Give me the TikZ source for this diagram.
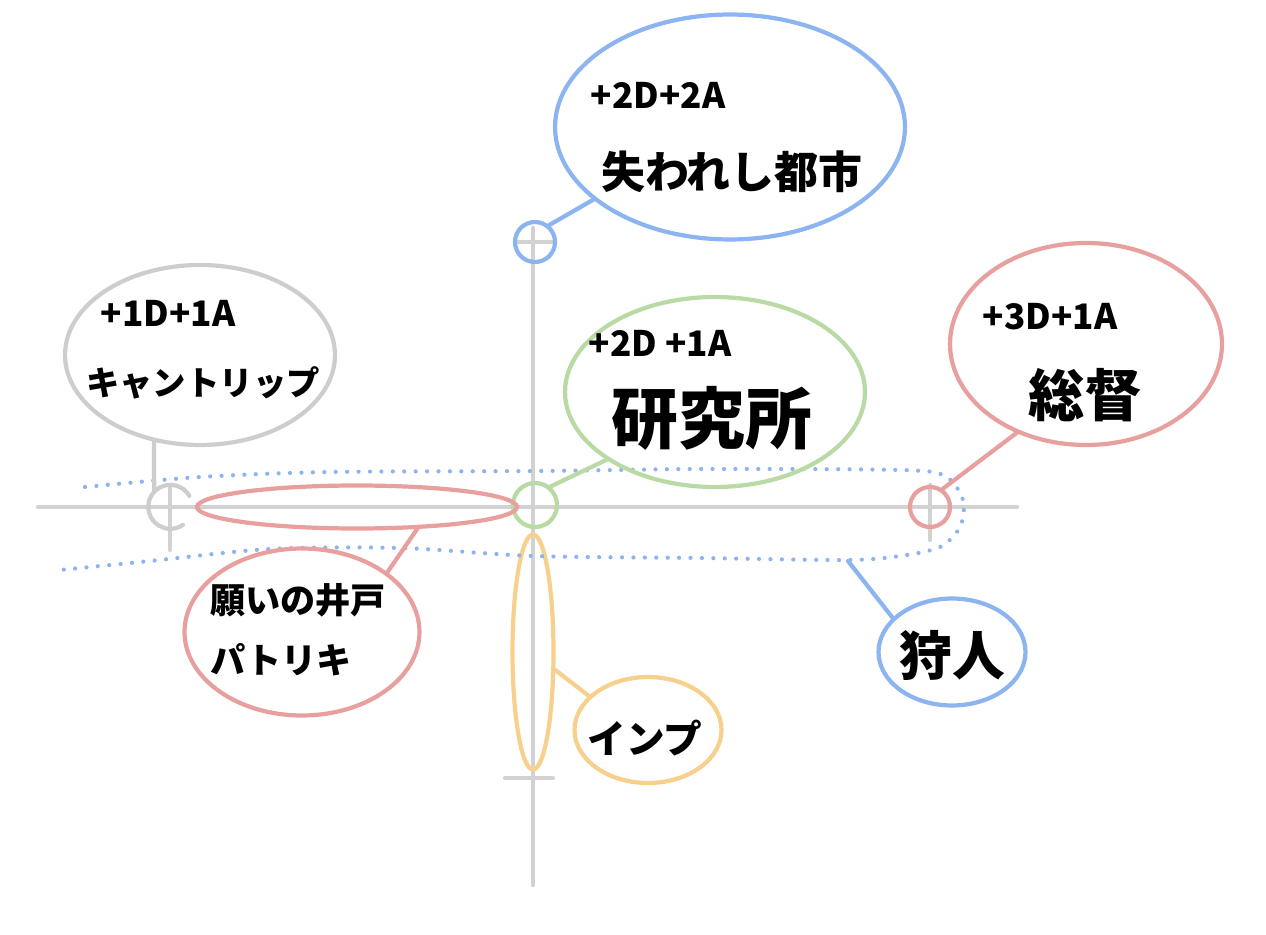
\documentclass[tikz,border=0pt]{standalone}
\usepackage{fontspec}
\setmainfont{Noto Sans CJK JP}
\usetikzlibrary{shapes.geometric}
\definecolor{axisgray}{RGB}{210,210,210}
\definecolor{sblue}{RGB}{140,180,240}
\definecolor{sgray}{RGB}{205,205,205}
\definecolor{sgreen}{RGB}{185,218,165}
\definecolor{sred}{RGB}{232,160,158}
\definecolor{sorange}{RGB}{246,208,140}

\tikzset{every node/.style={inner sep=0pt}}
\tikzstyle{axisline}=[line width=2.4pt, axisgray]
\tikzstyle{spot}=[circle, draw, line width=2.4pt, minimum size=0.8cm]
\tikzstyle{bubble}=[ellipse, draw, line width=2.4pt]
\tikzstyle{tail}=[line width=2.4pt]
\tikzstyle{bonus}=[font=\bfseries\fontsize{20}{24}\selectfont]
\tikzstyle{bandline}=[sblue, line width=2.4pt, line cap=round, dash pattern=on 0pt off 6.5pt]

\begin{document}
\begin{tikzpicture}[x=0.02cm, y=-0.02cm, line cap=round]
\useasboundingbox (0,0) rectangle (1266,935);
% axes and ticks
\draw[axisline] (38,507) -- (1017,507);
\draw[axisline] (533,228) -- (533,885);
\draw[axisline] (170,485) -- (170,550);
\draw[axisline] (930,485) -- (930,540);
\draw[axisline] (515,242) -- (552,242);
\draw[axisline] (505,778) -- (553,778);

% spots on the axes
\node[spot, sblue] (city) at (535,242) {};
\node[spot, sgreen, minimum size=0.88cm] (lab) at (535,505) {};
\node[spot, sred] (gov) at (930,507) {};
\node[circle, minimum size=0.88cm] (cant) at (170,507) {};
\draw[sgray, line width=2.4pt] (cant.30) arc[start angle=30, end angle=305, radius=0.44cm];
\node[bubble, sred, minimum width=6.4cm, minimum height=0.86cm] (well) at (357,507) {};
\node[bubble, sorange, minimum width=0.82cm, minimum height=4.7cm] (imp) at (533,652) {};

% dotted band
\draw[bandline] plot[smooth] coordinates {(85,487) (200,477) (330,472) (540,471) (700,469) (900,470)
  (945,476) (963,500) (960,527) (940,547) (900,556) (847,560) (700,558) (534,556) (400,548)
  (270,549) (150,561) (60,570)};
\coordinate (bandtail) at (848,561);

% bubbles
\node[bubble, sblue, minimum width=7cm, minimum height=4.5cm] (citybub) at (730,127) {};
\node[bonus] at (658,95) {+2D+2A};
\node[font=\bfseries\fontsize{25}{30}\selectfont] at (732,172) {失われし都市};
\draw[tail, sblue] (citybub.208) -- (city.50);

\node[bubble, sgray, minimum width=5.4cm, minimum height=3.6cm] (cantbub) at (200,355) {};
\node[bonus] at (168,313) {+1D+1A};
\node[font=\bfseries\fontsize{19}{22}\selectfont] at (203,383) {キャントリップ};
\draw[tail, sgray] (cantbub.242) -- (cant.135);

\node[bubble, sgreen, minimum width=6cm, minimum height=3.8cm] (labbub) at (715,392) {};
\node[bonus] at (660,343) {+2D +1A};
\node[font=\bfseries\fontsize{38}{44}\selectfont] at (712,418) {研究所};
\draw[tail, sgreen] (labbub.212) -- (lab.50);

\node[bubble, sred, minimum width=5.44cm, minimum height=4.04cm] (govbub) at (1086,344) {};
\node[bonus] at (1050,317) {+3D+1A};
\node[font=\bfseries\fontsize{32}{38}\selectfont] at (1085,395) {総督};
\draw[tail, sred] (govbub.232) -- (gov.55);

\node[bubble, sred, minimum width=4.7cm, minimum height=3.34cm] (wellbub) at (302,632) {};
\node[anchor=west, align=left, font=\bfseries\fontsize{20}{34}\selectfont] at (210,630) {願いの井戸\\パトリキ};
\draw[tail, sred] (wellbub.35) -- (well.340);

\node[bubble, sblue, minimum width=2.94cm, minimum height=2.14cm] (huntbub) at (952,652) {};
\node[font=\bfseries\fontsize{30}{36}\selectfont] at (952,655) {狩人};
\draw[tail, sblue] (bandtail) -- (huntbub.150);

\node[bubble, sorange, minimum width=2.94cm, minimum height=2.12cm] (impbub) at (648,730) {};
\node[font=\bfseries\fontsize{22}{26}\selectfont] at (645,738) {インプ};
\draw[tail, sorange] (imp.321) -- (impbub.150);
\end{tikzpicture}
\end{document}
